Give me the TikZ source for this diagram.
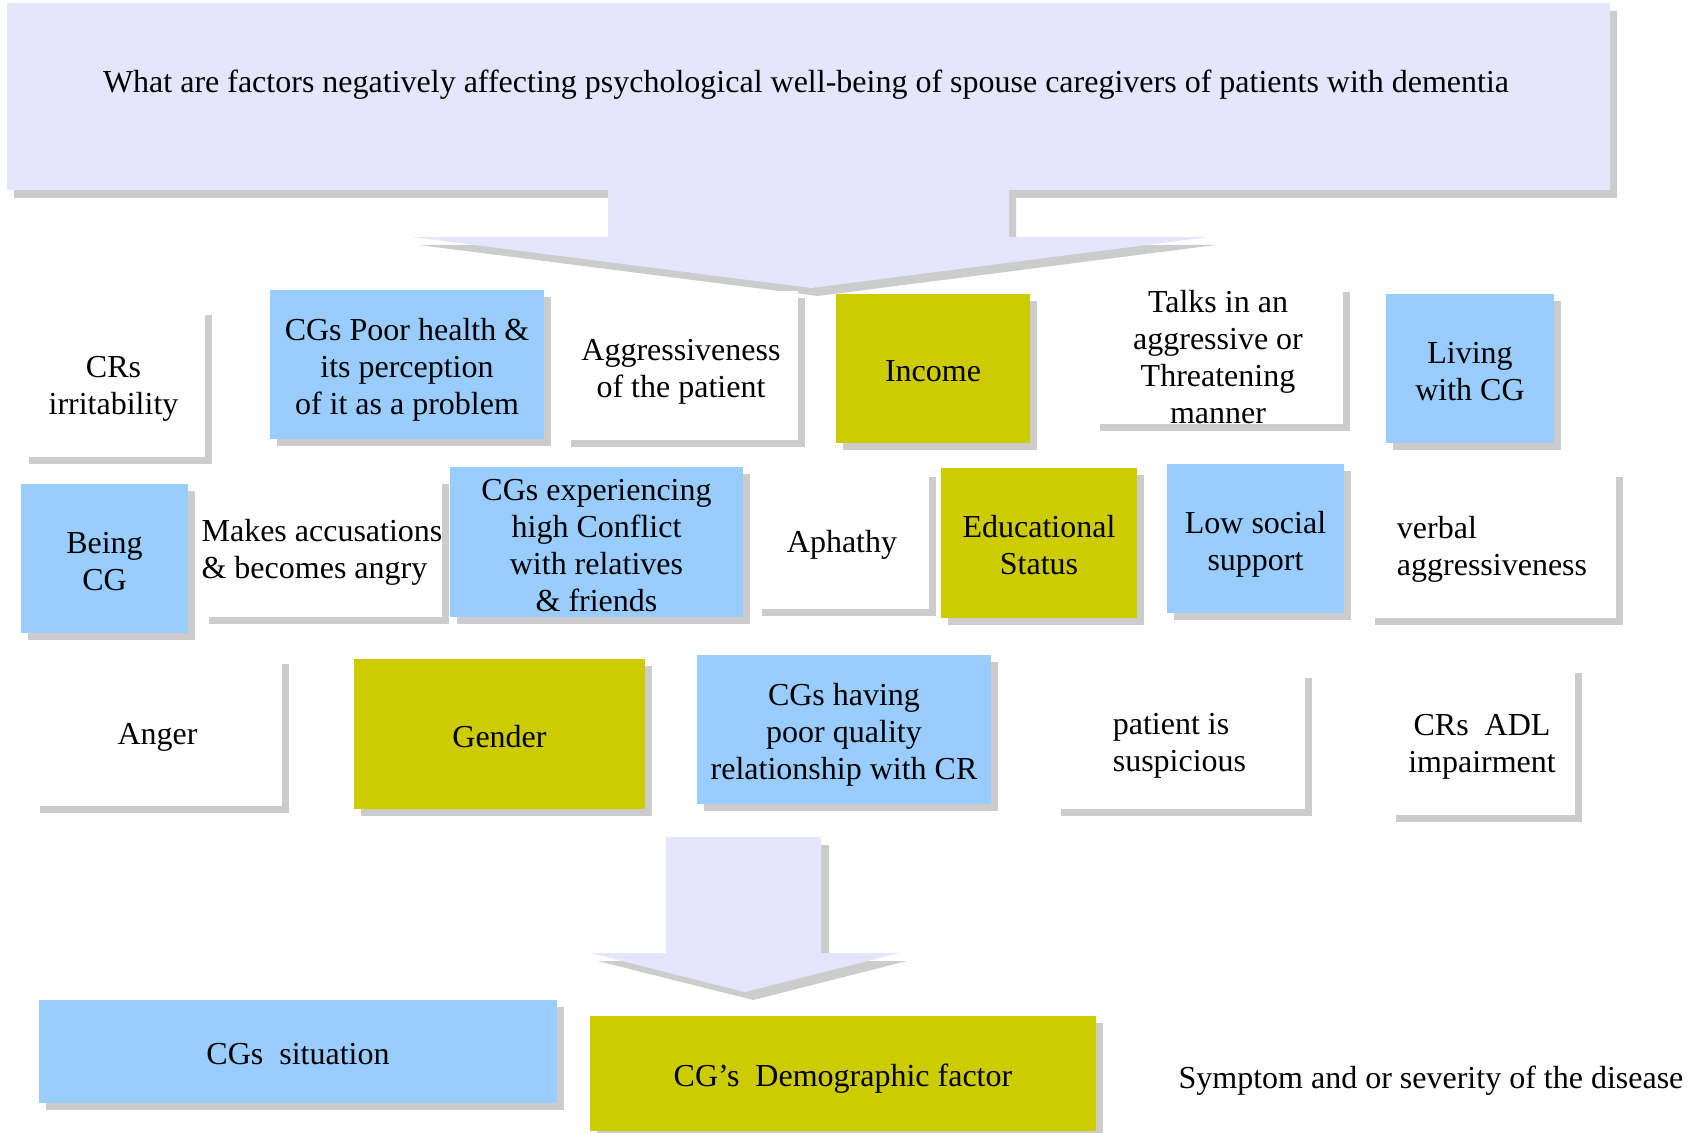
\documentclass[tikz,border=0pt]{standalone}
\usepackage{fontspec}
\setmainfont{Liberation Serif}
\usetikzlibrary{shadows}
\definecolor{askfill}{RGB}{229,229,253}
\definecolor{cgblue}{RGB}{153,204,255}
\definecolor{demoolive}{RGB}{204,204,0}
\definecolor{shadowgray}{RGB}{204,204,204}
\newcommand\topstrut[1][17pt]{\rule{0pt}{#1}}
\newcommand\botstrut{\rule[-3.6pt]{0pt}{3.6pt}}

\begin{document}
\begin{tikzpicture}[x=0.5pt,y=-0.5pt,
  font=\fontsize{16pt}{18.5pt}\selectfont,
  fac/.style 2 args={inner sep=0pt, align=center,
    minimum width=#1*0.5pt, minimum height=#2*0.5pt,
    drop shadow={shadow xshift=3.5pt, shadow yshift=-3.5pt, fill=shadowgray, opacity=1}},
  cg/.style={fill=cgblue},
  demo/.style={fill=demoolive},
  symp/.style={fill=white}]

  \useasboundingbox (0,0) rectangle (1702,1133);

  % question callout
  \fill[shadowgray, shift={(7,8)}] (7,3) -- (1610,3) -- (1610,190) -- (1009,190) -- (1009,237)
    -- (1209,237) -- (811,288) -- (412,237) -- (608,237) -- (608,190) -- (7,190) -- cycle;
  \fill[askfill] (7,3) -- (1610,3) -- (1610,190) -- (1009,190) -- (1009,237)
    -- (1209,237) -- (811,288) -- (412,237) -- (608,237) -- (608,190) -- (7,190) -- cycle;
  \node (question) at (806,79) {\topstrut What are factors negatively affecting psychological well-being of spouse caregivers of patients with dementia\botstrut};

  % row 1
  \node[fac={183}{149}, symp] (crIrrit) at (113.5,382.5) {\topstrut CRs\\irritability\botstrut};
  \node[fac={274}{149}, cg] (cgHealth) at (407,364.5) {\topstrut CGs Poor health \&\\its perception\\of it as a problem\botstrut};
  \node[fac={234}{149}, symp] (aggress) at (681,365.5) {\topstrut Aggressiveness\\of the patient\botstrut};
  \node[fac={194}{149}, demo] (income) at (933,368.5) {\topstrut Income\botstrut};
  \node[fac={250}{139}, symp] (talks) at (1218,354.5) {\topstrut[13.5pt]Talks in an\\aggressive or\\Threatening\\manner};
  \node[fac={168}{149}, cg] (living) at (1470,368.5) {\topstrut Living\\with CG\botstrut};

  % row 2
  \node[fac={167}{149}, cg] (beingCG) at (104.5,558.5) {\topstrut Being\\CG\botstrut};
  \node[fac={240}{140}, symp, align=left] (accuse) at (322,547) {\topstrut Makes accusations\hspace{5pt}\\\& becomes angry\botstrut};
  \node[fac={293}{150}, cg] (conflict) at (596.5,542) {\topstrut[14pt]CGs experiencing\\high Conflict\\with relatives\\\& friends};
  \node[fac={174}{139}, symp] (apathy) at (842,539.5) {\topstrut Aphathy\botstrut};
  \node[fac={196}{150}, demo] (educ) at (1039,543) {\topstrut Educational\\Status\botstrut};
  \node[fac={177}{149}, cg] (lowSocial) at (1255.5,538.5) {\topstrut Low social\\support\botstrut};
  \node[fac={248}{148}, symp, align=left] (verbal) at (1492,544) {\topstrut verbal\\aggressiveness\botstrut};

  % row 3
  \node[fac={249}{149}, symp] (anger) at (157.5,731.5) {\topstrut Anger\botstrut};
  \node[fac={291}{150}, demo] (gender) at (499.5,734) {\topstrut Gender\botstrut};
  \node[fac={294}{149}, cg] (relation) at (844,729.5) {\topstrut CGs having\\poor quality\\relationship with CR\botstrut};
  \node[fac={251}{138}, symp, align=left] (suspic) at (1179.5,740) {\topstrut patient is\\suspicious\botstrut};
  \node[fac={186}{149}, symp] (adl) at (1482,740.5) {\topstrut CRs\ \ ADL\\impairment\botstrut};

  % down arrow
  \fill[shadowgray, shift={(8,8)}] (666,837) -- (821,837) -- (821,953) -- (899,953)
    -- (745,992) -- (590,953) -- (666,953) -- cycle;
  \fill[askfill] (666,837) -- (821,837) -- (821,953) -- (899,953)
    -- (745,992) -- (590,953) -- (666,953) -- cycle;

  % legend
  \node[fac={518}{103}, cg] (situation) at (298,1051.5) {\topstrut CGs\ \ situation\botstrut};
  \node[fac={506}{115}, demo] (demog) at (843,1073.5) {\topstrut CG's\ \ Demographic factor\botstrut};
  \node (symptom) at (1431,1076) {\topstrut[16pt]Symptom and or severity of the disease\botstrut};

\end{tikzpicture}
\end{document}
